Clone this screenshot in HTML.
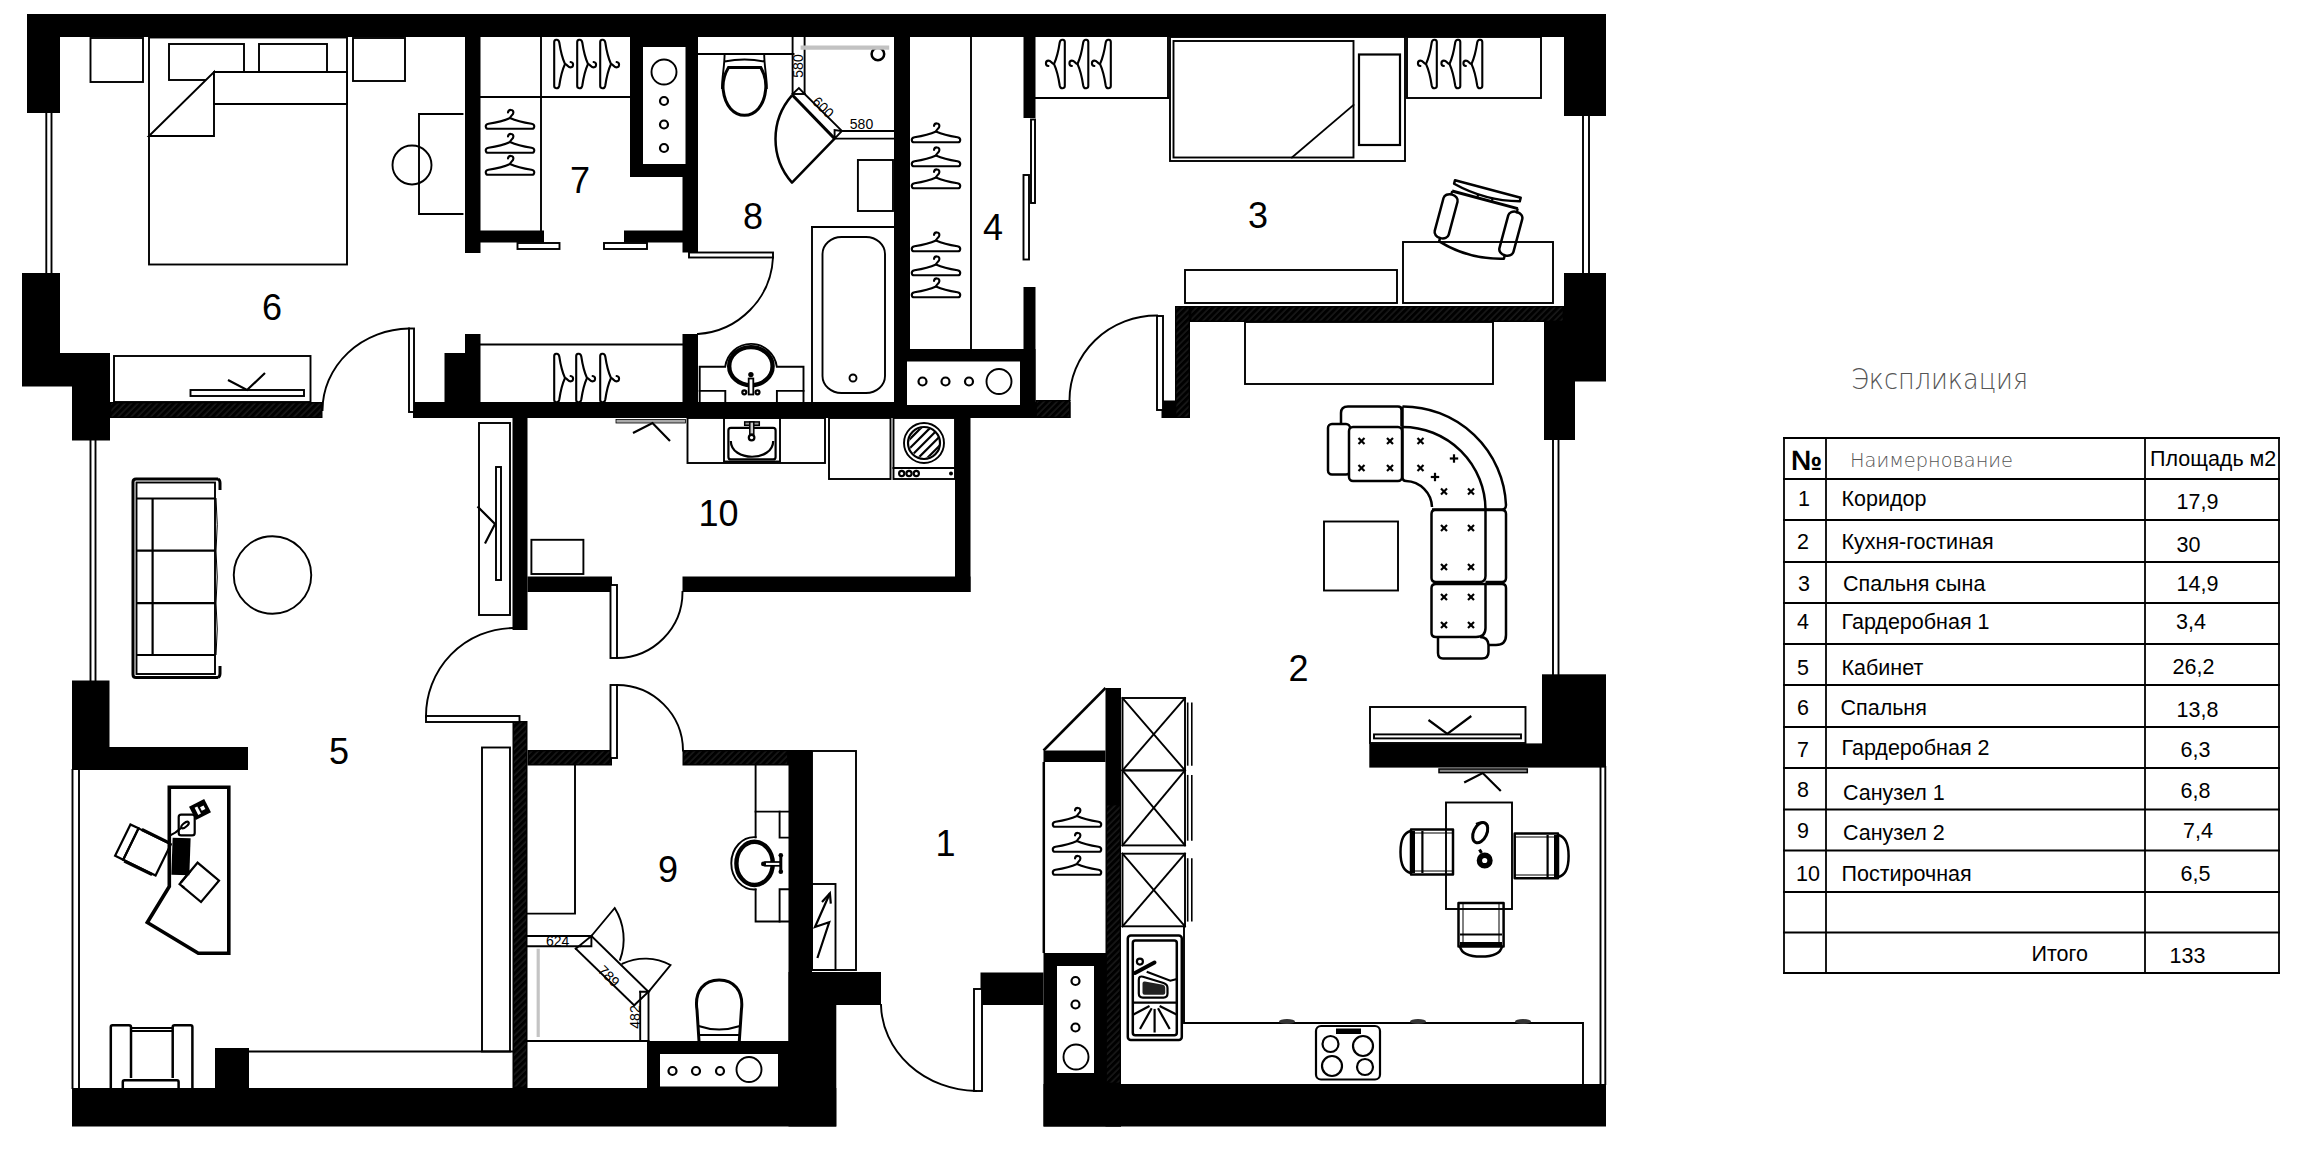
<!DOCTYPE html>
<html lang="ru"><head><meta charset="utf-8"><title>План квартиры — Экспликация</title>
<style>
html,body{margin:0;padding:0;background:#fff;}
body{width:2314px;height:1156px;overflow:hidden;font-family:"Liberation Sans",sans-serif;}
svg{display:block;position:absolute;left:0;top:0;}
.w{fill:#000;stroke:none;}
.wh{fill:#fff;stroke:none;}
.l{fill:none;stroke:#000;stroke-width:1.9;stroke-linecap:square;}
.lf{fill:#fff;stroke:#000;stroke-width:1.9;}
.lf25{fill:#fff;stroke:#000;stroke-width:2.5;}
.l25{fill:none;stroke:#000;stroke-width:2.5;stroke-linejoin:round;}
.l4{fill:none;stroke:#000;stroke-width:4;}
.lr4{fill:none;stroke:#000;stroke-width:4;stroke-linecap:round;}
.lk{fill:none;stroke:#000;stroke-width:3.6;stroke-linejoin:miter;}
.l1{fill:none;stroke:#000;stroke-width:1;}
.l15{fill:none;stroke:#000;stroke-width:1.6;}
.l2{fill:none;stroke:#000;stroke-width:2.2;}
.l3{fill:none;stroke:#000;stroke-width:3;}
.lr{fill:none;stroke:#000;stroke-width:2.1;stroke-linecap:round;stroke-linejoin:round;}
.g{fill:none;stroke:#bdbdbd;stroke-width:3;}
.gf{fill:#999;stroke:#000;stroke-width:1;}
.k{fill:#000;stroke:none;}
.k2{fill:#222;stroke:none;}
.rn{font-family:"Liberation Sans",sans-serif;font-size:36px;fill:#000;text-anchor:middle;}
.dm{font-family:"Liberation Sans",sans-serif;font-size:14px;fill:#000;text-anchor:middle;}
.tb{font-family:"Liberation Sans",sans-serif;font-size:21.5px;fill:#000;}
.tbb{font-family:"Liberation Sans",sans-serif;font-size:28px;font-weight:bold;fill:#000;}
.th{font-family:"DejaVu Sans Light","DejaVu Sans",sans-serif;font-weight:200;fill:#555;}
.tl{fill:none;stroke:#000;stroke-width:1.8;stroke-linecap:square;}
</style></head><body>
<svg width="2314" height="1156" viewBox="0 0 2314 1156">
<defs>
<g id="hg"><path class="lr" d="M0,-4 C0.3,-6.5 3.4,-6.8 3.4,-9.6 C3.4,-12.8 -1.6,-13 -2,-9.6"/><path class="lr" d="M0,-4 Q-8,-0.3 -21.5,1.7 Q-24.6,2.3 -24.2,4.8 Q-23.9,6.8 -22,6.8 L22,6.8 Q23.9,6.8 24.2,4.8 Q24.6,2.3 21.5,1.7 Q8,-0.3 0,-4 Z"/></g>
<clipPath id="drum"><circle cx="924.4" cy="442.7" r="15"/></clipPath>
<pattern id="ht" width="4.6" height="4.6" patternUnits="userSpaceOnUse" patternTransform="rotate(-45)"><line x1="0" y1="1" x2="4.6" y2="1" stroke="#484848" stroke-width="0.55"/></pattern>
</defs>
<g id="walls">
<rect class="w" x="27" y="14" width="1579" height="23"/>
<rect class="w" x="27" y="14" width="33" height="99"/>
<polygon class="w" points="22,273 60,273 60,353 110,353 110,440.5 72,440.5 72,386.5 22,386.5"/>
<rect class="w" x="110" y="402" width="212.5" height="16"/>
<polygon class="w" points="72,680.5 109.5,680.5 109.5,747 248,747 248,770 72,770"/>
<rect class="w" x="72" y="1088" width="764.3" height="38.5"/>
<rect class="w" x="215" y="1048" width="34" height="40"/>
<rect class="w" x="465" y="37" width="15.5" height="216"/>
<rect class="w" x="480" y="230.5" width="64" height="12.0"/>
<rect class="w" x="624" y="230.5" width="59" height="12.0"/>
<rect class="w" x="630" y="37" width="68" height="140"/>
<rect class="wh" x="643" y="47" width="42.5" height="117"/>
<rect class="w" x="682.5" y="177" width="15.5" height="75.5"/>
<polygon class="w" points="444.5,353 465,353 465,334 480.5,334 480.5,402 444.5,402"/>
<rect class="w" x="413" y="402" width="657.5" height="16"/>
<rect class="w" x="682.5" y="334" width="15.5" height="68"/>
<rect class="w" x="894" y="37" width="16" height="365"/>
<rect class="w" x="894" y="349" width="141.5" height="69"/>
<rect class="wh" x="907" y="361.5" width="113" height="43.5"/>
<rect class="w" x="1023.5" y="37" width="12.0" height="81"/>
<rect class="w" x="1023.5" y="287" width="12.0" height="131"/>
<rect class="w" x="512.5" y="418" width="15.0" height="212"/>
<rect class="w" x="527.5" y="576.5" width="84.5" height="15.5"/>
<rect class="w" x="682.5" y="576.5" width="288.0" height="15.5"/>
<rect class="w" x="955" y="418" width="15.5" height="174"/>
<rect class="w" x="512.5" y="721" width="15.0" height="367"/>
<rect class="w" x="527.5" y="750" width="84.5" height="15.5"/>
<rect class="w" x="682.5" y="750" width="129.5" height="15.5"/>
<rect class="w" x="788.5" y="750" width="23.5" height="338"/>
<rect class="w" x="647" y="1041" width="165" height="47"/>
<rect class="wh" x="660" y="1054" width="118" height="32.5"/>
<rect class="w" x="788.5" y="972" width="47.8" height="154.5"/>
<rect class="w" x="812" y="972" width="69" height="33"/>
<rect class="w" x="980.5" y="972.5" width="63.0" height="32.5"/>
<rect class="w" x="1043.5" y="953" width="77.5" height="173.5"/>
<rect class="wh" x="1057" y="966" width="37" height="107"/>
<rect class="w" x="1105.5" y="688" width="15.5" height="438.5"/>
<rect class="w" x="1043.5" y="750.5" width="62.0" height="11.5"/>
<rect class="w" x="1043.5" y="1084" width="562.5" height="42.5"/>
<rect class="w" x="1564" y="14" width="42" height="102"/>
<rect class="w" x="1564" y="273" width="42" height="108.5"/>
<rect class="w" x="1544" y="322" width="31" height="118"/>
<rect class="w" x="1175" y="306" width="389" height="16"/>
<rect class="w" x="1175" y="306" width="15" height="112"/>
<rect class="w" x="1161.5" y="400.5" width="28.5" height="17.5"/>
<rect class="w" x="1035.5" y="400" width="35.0" height="18"/>
<rect class="w" x="1542" y="674.3" width="64" height="93.3"/>
<rect class="w" x="1369.3" y="743.4" width="172.7" height="24.2"/>
<rect x="111.4" y="403.4" width="209.7" height="13.2" fill="url(#ht)"/>
<rect x="513.9" y="722.4" width="12.2" height="364.2" fill="url(#ht)"/>
<rect x="528.9" y="751.4" width="81.7" height="12.7" fill="url(#ht)"/>
<rect x="683.9" y="751.4" width="103.2" height="12.7" fill="url(#ht)"/>
<rect x="1191.4" y="307.4" width="371.2" height="13.2" fill="url(#ht)"/>
<rect x="1176.4" y="307.4" width="12.2" height="109.2" fill="url(#ht)"/>
<rect x="1036.9" y="401.4" width="32.2" height="15.2" fill="url(#ht)"/>
<rect x="1106.9" y="805.4" width="12.7" height="277.2" fill="url(#ht)"/>
</g>
<g id="furn">
<line class="l" x1="46.3" y1="113" x2="46.3" y2="273"/>
<line class="l" x1="51.5" y1="113" x2="51.5" y2="273"/>
<line class="l" x1="90.5" y1="440" x2="90.5" y2="681"/>
<line class="l" x1="95.5" y1="440" x2="95.5" y2="681"/>
<line class="l" x1="72.5" y1="770" x2="72.5" y2="1088"/>
<line class="l" x1="79" y1="770" x2="79" y2="1088"/>
<line class="l" x1="1583" y1="116" x2="1583" y2="273"/>
<line class="l" x1="1589" y1="116" x2="1589" y2="273"/>
<line class="l" x1="1553" y1="440" x2="1553" y2="674"/>
<line class="l" x1="1558.5" y1="440" x2="1558.5" y2="674"/>
<line class="l" x1="1600.5" y1="767" x2="1600.5" y2="1084"/>
<line class="l" x1="1605.3" y1="767" x2="1605.3" y2="1084"/>
<rect class="l" x="90.5" y="38" width="52.5" height="44"/>
<rect class="l" x="353" y="38" width="52" height="43"/>
<rect class="l" x="149" y="37.5" width="198" height="227.0"/>
<rect class="lf" x="169" y="44" width="75" height="36"/>
<rect class="lf" x="259" y="44" width="68" height="28"/>
<polygon class="lf" points="149,136 214,72 214,136"/>
<polygon class="lf" points="214,72 347,72 347,104 214,104"/>
<polyline class="l" points="462.5,114 419,114 419,214 462.5,214"/>
<circle class="l" cx="412" cy="165" r="19.5"/>
<rect class="l" x="114" y="356" width="196.5" height="46"/>
<rect class="l" x="190.5" y="390" width="113.5" height="6"/>
<polyline class="l2" points="228,380 247,390 265,373"/>
<path class="l" d="M322.5,410 A88,82 0 0 1 409,328.5"/>
<rect class="lf" x="409" y="328.5" width="5" height="83.5"/>
<text class="rn" x="272" y="320" >6</text>
<line class="l" x1="480.5" y1="97" x2="630" y2="97"/>
<line class="l" x1="541" y1="37" x2="541" y2="230.5"/>
<line class="l" x1="480.5" y1="344.5" x2="682.5" y2="344.5"/>
<use href="#hg" transform="translate(510,122) rotate(0) scale(1.0)"/>
<use href="#hg" transform="translate(510,146) rotate(0) scale(1.0)"/>
<use href="#hg" transform="translate(510,168) rotate(0) scale(1.0)"/>
<use href="#hg" transform="translate(561,64) rotate(90) scale(1.0)"/>
<use href="#hg" transform="translate(584,64) rotate(90) scale(1.0)"/>
<use href="#hg" transform="translate(607,64) rotate(90) scale(1.0)"/>
<use href="#hg" transform="translate(561,378) rotate(90) scale(1.0)"/>
<use href="#hg" transform="translate(583,378) rotate(90) scale(1.0)"/>
<use href="#hg" transform="translate(607,378) rotate(90) scale(1.0)"/>
<rect class="lf" x="517.5" y="243" width="42.0" height="6"/>
<rect class="lf" x="604" y="243" width="43" height="6"/>
<text class="rn" x="580" y="193" >7</text>
<circle class="l" cx="664" cy="72" r="12.5"/>
<circle class="l2" cx="664" cy="101" r="4"/>
<circle class="l2" cx="664" cy="124.5" r="4"/>
<circle class="l2" cx="664" cy="148" r="4"/>
<line class="l" x1="698" y1="54" x2="793.5" y2="54"/>
<line class="l" x1="792.6" y1="37" x2="792.6" y2="94"/>
<line class="l" x1="804.6" y1="37" x2="804.6" y2="94"/>
<line class="l" x1="804.6" y1="94" x2="841.9" y2="131"/>
<line class="l" x1="792.6" y1="94" x2="804.6" y2="94"/>
<polyline class="l" points="792.6,94 798.9,88 804.6,94"/>
<line class="l" x1="841.9" y1="131" x2="894" y2="131"/>
<line class="l" x1="834.6" y1="138.6" x2="894" y2="138.6"/>
<polyline class="l" points="834.6,138.6 834.6,130 841.9,131 834.6,138.6"/>
<circle class="l25" cx="877.9" cy="54" r="6.3"/>
<line x1="800.6" y1="47.7" x2="889.2" y2="47.7" stroke="#c2c2c2" stroke-width="4.2"/>
<path class="l25" d="M792,95.3 A66,66 0 0 0 792,182.6 L834.6,138.6"/>
<line class="l3" x1="792.3" y1="95" x2="834.6" y2="138.6"/>
<path class="l" d="M724.6,54 C724.6,66 722,76 722,88 M764.2,54 C764.2,66 766.8,76 766.8,88 M724.6,61.5 Q744.5,57.5 764.2,61.5"/>
<path class="l3" d="M728.5,67.5 L760.8,67.5 C765,75 766.3,84 765.6,90 C764,106 755,115.3 744.5,115.3 C734,115.3 725,106 723.2,90 C722.6,84 724,75 728.5,67.5 Z"/>
<rect class="l" x="857.9" y="160" width="35.1" height="51"/>
<line class="l" x1="812" y1="227" x2="894" y2="227"/>
<line class="l" x1="812" y1="227" x2="812" y2="402"/>
<rect class="l" x="822.5" y="237" width="62.5" height="156" rx="19" ry="17"/>
<circle class="l" cx="853" cy="378" r="3.5"/>
<path class="l" d="M699.7,402 L699.7,366.7 L725.2,366.7 A26,26 0 0 1 776.8,366.7 L803.5,366.7 L803.5,402"/>
<polyline class="l" points="699.7,390.9 725.3,390.9 725.3,402"/>
<polyline class="l" points="803.5,390.9 776.9,390.9 776.9,402"/>
<ellipse cx="750.9" cy="366.2" rx="21.7" ry="19.1" fill="none" stroke="#000" stroke-width="4.4"/>
<rect x="748.7" y="378.5" width="4.6" height="16" fill="#fff" stroke="#000" stroke-width="1.8"/>
<circle class="k" cx="750.9" cy="374.6" r="2.7"/>
<circle class="l2" cx="744.3" cy="392.3" r="2"/>
<circle class="l2" cx="757.5" cy="392.3" r="2"/>
<rect class="lf" x="689" y="252.5" width="84" height="5.0"/>
<path class="l" d="M773,257.5 A80.5,80.5 0 0 1 698,334"/>
<text class="rn" x="753" y="229" >8</text>
<text class="dm" x="0" y="0" transform="translate(803.4,66) rotate(-90)">580</text>
<text class="dm" x="0" y="0" transform="translate(819.7,110.8) rotate(45)">600</text>
<text class="dm" x="861.5" y="128.6" >580</text>
<line class="l" x1="971" y1="37" x2="971" y2="349"/>
<use href="#hg" transform="translate(936,135.5) rotate(0) scale(1.0)"/>
<use href="#hg" transform="translate(936,159.5) rotate(0) scale(1.0)"/>
<use href="#hg" transform="translate(936,181.5) rotate(0) scale(1.0)"/>
<use href="#hg" transform="translate(936,244.5) rotate(0) scale(1.0)"/>
<use href="#hg" transform="translate(936,268.5) rotate(0) scale(1.0)"/>
<use href="#hg" transform="translate(936,290.5) rotate(0) scale(1.0)"/>
<rect class="lf" x="1031" y="119.5" width="4" height="83.5"/>
<rect class="lf" x="1023.5" y="175" width="5.5" height="84.5"/>
<text class="rn" x="993" y="240" >4</text>
<circle class="l2" cx="922.5" cy="381.5" r="4"/>
<circle class="l2" cx="945.5" cy="381.5" r="4"/>
<circle class="l2" cx="969" cy="381.5" r="4"/>
<circle class="l" cx="999" cy="381.5" r="12.5"/>
<line class="l" x1="1035.5" y1="98" x2="1168" y2="98"/>
<line class="l" x1="1168" y1="37" x2="1168" y2="98"/>
<use href="#hg" transform="translate(1058,64) rotate(-90) scale(1.0)"/>
<use href="#hg" transform="translate(1081.5,64) rotate(-90) scale(1.0)"/>
<use href="#hg" transform="translate(1104,64) rotate(-90) scale(1.0)"/>
<rect class="l" x="1170" y="37" width="235" height="124"/>
<rect class="l" x="1173.5" y="41" width="180.0" height="116.5"/>
<line class="l" x1="1292" y1="157.5" x2="1353.5" y2="105"/>
<rect class="l2" x="1359" y="54.5" width="41" height="90.5"/>
<rect class="l" x="1407" y="37" width="134" height="61"/>
<use href="#hg" transform="translate(1430,64) rotate(-90) scale(1.0)"/>
<use href="#hg" transform="translate(1453.5,64) rotate(-90) scale(1.0)"/>
<use href="#hg" transform="translate(1475.5,64) rotate(-90) scale(1.0)"/>
<rect class="l" x="1403" y="242" width="150" height="61"/>
<rect class="l" x="1185" y="270" width="212" height="33"/>
<text class="rn" x="1258" y="228" >3</text>
<rect class="lf" x="1157" y="316" width="6" height="94"/>
<path class="l" d="M1069.5,400 A87.5,84.5 0 0 1 1157,315.5"/>
<rect x="616" y="419.5" width="69.5" height="3.5" fill="#aaa" stroke="#000" stroke-width="0.8"/>
<polyline class="l2" points="633,433 652.5,423 670,441"/>
<rect class="l" x="687.5" y="418" width="137.5" height="45"/>
<rect class="l" x="724" y="418" width="56" height="43.5"/>
<rect class="l" x="829" y="418" width="61.5" height="61"/>
<rect class="l" x="893.5" y="418" width="61.5" height="61"/>
<line class="l" x1="893.5" y1="468" x2="955" y2="468"/>
<circle class="l" cx="924" cy="443" r="20"/>
<circle class="l2" cx="924" cy="443" r="16"/>
<rect class="l" x="531.4" y="539.8" width="52.0" height="34.2"/>
<text class="rn" x="718.5" y="526" >10</text>
<rect class="lf" x="610.5" y="585" width="6.5" height="73"/>
<path class="l" d="M682.5,592 A66,66 0 0 1 617,658"/>
<rect class="lf" x="610.5" y="685" width="6.5" height="73"/>
<path class="l" d="M617,685 A66,66 0 0 1 683,750.5"/>
<rect class="l" x="479" y="423" width="31" height="192"/>
<rect class="lf" x="496" y="467" width="5" height="113"/>
<polyline class="l2" points="477.5,506.5 495,524 485,543.5"/>
<circle class="l" cx="272.5" cy="575" r="38.75"/>
<rect class="l" x="482" y="747.5" width="28" height="304.0"/>
<line class="l" x1="249" y1="1051.5" x2="512" y2="1051.5"/>
<rect class="lf" x="426" y="716" width="93.5" height="6"/>
<path class="l" d="M512.5,628 A88,88 0 0 0 426,717"/>
<text class="rn" x="339" y="764" >5</text>
<rect class="l" x="812" y="751" width="44" height="219"/>
<rect class="l" x="812" y="884" width="23.5" height="86"/>
<text class="rn" x="945.5" y="856" >1</text>
<rect class="lf" x="974" y="989" width="8" height="102"/>
<path class="l" d="M881,1005 A97,88 0 0 0 976,1091"/>
<polyline class="l25" points="1043.5,750.5 1105.5,688"/>
<line class="l25" x1="1043.8" y1="762" x2="1043.8" y2="953"/>
<use href="#hg" transform="translate(1077,820) rotate(0) scale(1.0)"/>
<use href="#hg" transform="translate(1077,845) rotate(0) scale(1.0)"/>
<use href="#hg" transform="translate(1077,868) rotate(0) scale(1.0)"/>
<rect class="l" x="1122.5" y="698" width="62.5" height="72.4"/>
<line class="l" x1="1122.5" y1="698" x2="1185" y2="770.4"/>
<line class="l" x1="1122.5" y1="770.4" x2="1185" y2="698"/>
<line class="l15" x1="1187.7" y1="702.5" x2="1187.7" y2="765.6999999999999"/>
<line class="l15" x1="1191.8" y1="702.5" x2="1191.8" y2="765.6999999999999"/>
<rect class="l" x="1122.5" y="770.4" width="62.5" height="75.0"/>
<line class="l" x1="1122.5" y1="770.4" x2="1185" y2="845.4"/>
<line class="l" x1="1122.5" y1="845.4" x2="1185" y2="770.4"/>
<line class="l15" x1="1187.7" y1="774.9" x2="1187.7" y2="840.6999999999999"/>
<line class="l15" x1="1191.8" y1="774.9" x2="1191.8" y2="840.6999999999999"/>
<rect class="l" x="1122.5" y="853.7" width="62.5" height="72.6"/>
<line class="l" x1="1122.5" y1="853.7" x2="1185" y2="926.3"/>
<line class="l" x1="1122.5" y1="926.3" x2="1185" y2="853.7"/>
<line class="l15" x1="1187.7" y1="858.2" x2="1187.7" y2="921.5999999999999"/>
<line class="l15" x1="1191.8" y1="858.2" x2="1191.8" y2="921.5999999999999"/>
<circle class="l2" cx="672.5" cy="1071" r="4"/>
<circle class="l2" cx="696" cy="1071" r="4"/>
<circle class="l2" cx="720" cy="1071" r="4"/>
<circle class="l" cx="749" cy="1069.5" r="12.5"/>
<circle class="l2" cx="1075.5" cy="981" r="4"/>
<circle class="l2" cx="1075.5" cy="1004.5" r="4"/>
<circle class="l2" cx="1075.5" cy="1027.5" r="4"/>
<circle class="l" cx="1076" cy="1057" r="12.5"/>
<rect class="l" x="1245" y="322" width="248" height="62"/>
<rect class="l" x="1324" y="521.5" width="74" height="69.0"/>
<text class="rn" x="1298.5" y="681" >2</text>
<rect class="l" x="1370" y="707" width="155.5" height="36"/>
<rect class="l" x="1374" y="734.4" width="147" height="4.0"/>
<polyline class="l2" points="1428.5,720 1447.3,734 1471.3,716"/>
<rect x="1439" y="769" width="88.3" height="3.6" fill="#8a8a8a" stroke="#000" stroke-width="1.5"/>
<polyline class="l2" points="1464.2,782.5 1482.7,773 1500.8,791"/>
<rect class="l" x="1446" y="802.5" width="66" height="106.5"/>
<polyline class="l" points="1184,926 1184,1023 1583,1023 1583,1084"/>
<rect class="l2" x="1316" y="1026" width="64" height="53.5" rx="5" ry="5"/>
<circle class="l2" cx="1330.5" cy="1044" r="8"/>
<circle class="l2" cx="1363" cy="1046" r="10"/>
<circle class="l2" cx="1332" cy="1066" r="10"/>
<circle class="l2" cx="1365" cy="1067" r="8"/>
<rect class="k" x="1336" y="1028.5" width="25" height="5.5"/>
<ellipse cx="1287" cy="1021.5" rx="8" ry="2.5" fill="#333"/>
<ellipse cx="1418" cy="1021.5" rx="8" ry="2.5" fill="#333"/>
<ellipse cx="1523" cy="1021.5" rx="8" ry="2.5" fill="#333"/>
<path class="l3" d="M218,479 L136,479 Q133,479 133,482 L133,674.5 Q133,677.5 136,677.5 L218,677.5"/>
<rect class="l" x="136.5" y="482.5" width="78.5" height="191.5"/>
<path class="l3" d="M218,479 Q220,480 220,483 L220,490 M218,677.5 Q220,676.5 220,673.5 L220,666"/>
<line class="l2" x1="136.5" y1="498.5" x2="215" y2="498.5"/>
<line class="l2" x1="136.5" y1="655" x2="215" y2="655"/>
<line class="l2" x1="152.6" y1="498.5" x2="152.6" y2="655"/>
<line class="l2" x1="136.5" y1="550.7" x2="215" y2="550.7"/>
<line class="l2" x1="136.5" y1="603.2" x2="215" y2="603.2"/>
<path class="l1" d="M216,498 Q218.5,525 216,551 Q218.5,577 216,603 Q218.5,629 216,655"/>
<polygon class="lk" points="169.3,787.3 228.8,787.3 228.8,953.2 198.3,953.2 147.3,922.5 169.3,886.5"/>
<rect class="k" x="172" y="838" width="18" height="37" transform="rotate(2 181 856)"/>
<rect class="l2" x="178.7" y="814.6" width="16" height="20.8" rx="2.5"/>
<ellipse class="l2" cx="185" cy="825" rx="4.5" ry="2" transform="rotate(-40 185 825)"/>
<path class="l2" d="M181,828 Q176,833 169,836"/>
<g transform="translate(200,809.5) rotate(-27)"><rect class="k" x="-8.5" y="-7.5" width="17" height="15"/><rect class="wh" x="-4" y="-4" width="3" height="8"/><rect class="wh" x="1" y="-2" width="4" height="4"/></g>
<g transform="translate(199.3,882.3) rotate(40)"><rect class="l2" x="-14" y="-14" width="28" height="28"/><path class="l2" d="M-14,-3 L-14,12 M-8,14 L-11,14"/></g>
<g transform="translate(143,850) rotate(26)"><rect class="l2" x="-22.5" y="-17.5" width="9" height="35"/><rect class="l2" x="-13.5" y="-17.5" width="36" height="35"/><rect class="k" x="-10" y="-19.5" width="31" height="3.2"/><rect class="k" x="-12" y="16.5" width="31" height="3.2"/></g>
<path class="l25" d="M110.8,1088 L110.8,1027 Q110.8,1025.3 112.5,1025.3 L129,1025.3 Q131,1025.3 131,1027 L131,1078"/>
<path class="l25" d="M192.4,1088 L192.4,1027 Q192.4,1025.3 190.7,1025.3 L174.5,1025.3 Q172.7,1025.3 172.7,1027 L172.7,1078"/>
<line class="l2" x1="131" y1="1028" x2="172.7" y2="1028"/>
<line class="l2" x1="131" y1="1031" x2="172.7" y2="1031"/>
<path class="l25" d="M122.8,1088 L122.8,1082 Q122.8,1080.3 124.5,1080.3 L177,1080.3 Q178.6,1080.3 178.6,1082 L178.6,1088"/>
<polyline class="l" points="575,765.5 575,913.6 527.5,913.6"/>
<line class="l" x1="527.5" y1="936" x2="591.4" y2="936"/>
<line class="l" x1="527.5" y1="946.3" x2="580" y2="946.3"/>
<line class="l" x1="591.4" y1="936" x2="648.5" y2="991.8"/>
<line class="l" x1="575.8" y1="948.7" x2="634.2" y2="1005.3"/>
<polyline class="l" points="575.8,948.7 591.4,936 591.4,946.3 580,946.3"/>
<line class="l" x1="640.2" y1="991.8" x2="640.2" y2="1041"/>
<line class="l" x1="648.5" y1="991.8" x2="648.5" y2="1041"/>
<polyline class="l" points="634.2,1005.3 648.5,991.8 640.2,991.8"/>
<line class="l" x1="527.5" y1="1041" x2="648.5" y2="1041"/>
<line x1="538.2" y1="948.7" x2="538.2" y2="1037" stroke="#c4c4c4" stroke-width="3.2"/>
<path class="l" d="M591.4,936 L614.7,908 A59,59 0 0 1 620,959.8"/>
<path class="l" d="M648.5,991.8 L670.5,965 A53,53 0 0 0 622.5,963.7"/>
<text class="dm" x="557.6" y="946" >624</text>
<text class="dm" x="0" y="0" transform="translate(607,978) rotate(45)" dy="2">789</text>
<text class="dm" x="0" y="0" transform="translate(640,1017) rotate(-90)">482</text>
<text class="rn" x="668" y="881.5" >9</text>
<polyline class="l" points="755.6,765.5 755.6,837.2"/>
<polyline class="l" points="755.6,889.4 755.6,921.5 788.5,921.5"/>
<line class="l" x1="755.6" y1="811.6" x2="788.5" y2="811.6"/>
<polyline class="l" points="788.5,837.6 779.6,837.6 779.6,811.6"/>
<polyline class="l" points="788.5,889.2 779.6,889.2 779.6,921.5"/>
<path class="l" d="M755.6,837.2 A22.9,26.15 0 1 0 755.6,889.4"/>
<ellipse cx="754.6" cy="863.4" rx="18.2" ry="21.6" fill="none" stroke="#000" stroke-width="4.4"/>
<rect x="765" y="862" width="16" height="3.8" fill="#fff" stroke="#000" stroke-width="1.7"/>
<line class="l3" x1="780.8" y1="856" x2="780.8" y2="871.4"/>
<circle class="k" cx="763.4" cy="863.9" r="2.4"/>
<circle class="k" cx="780.8" cy="855.3" r="2.3"/>
<circle class="k" cx="780.8" cy="871.8" r="2.3"/>
<path class="l3" d="M699,1041 L697,1010 C694,990 705,980 719.2,980 C733,980 744,990 741.4,1010 L739.3,1041"/>
<path class="l2" d="M698.5,1026 Q719,1033 740,1026"/>
<line class="l2" x1="699" y1="1035" x2="739.5" y2="1035"/>
<polyline class="l2" points="817.4,958 829.2,922.3 815,927 829.9,893.3"/>
<polyline class="l2" points="822,902 829.9,893.3 830.8,903.6"/>
<rect class="l2" x="728.4" y="427.9" width="47.2" height="31.5" rx="2.5"/>
<path class="l2" d="M730.8,440.9 C731,462 773,462 773.2,440.9"/>
<rect x="744.7" y="421.9" width="14.6" height="3.4" fill="#999" stroke="#000" stroke-width="1.5"/>
<rect x="749.8" y="421.9" width="4" height="12.3" fill="#ccc" stroke="#000" stroke-width="1.5"/>
<circle class="l2" cx="751.6" cy="437.6" r="2.8"/>
<circle class="l2" cx="901.7" cy="473.5" r="2.6"/>
<circle class="l2" cx="909" cy="473.5" r="2.6"/>
<circle class="l2" cx="916.3" cy="473.5" r="2.6"/>
<circle class="k" cx="951" cy="473.5" r="2"/>
<g clip-path="url(#drum)">
<line class="l2" x1="897.4" y1="451.5" x2="923.4" y2="425.5"/>
<line class="l2" x1="904.4" y1="453.59999999999997" x2="930.4" y2="427.59999999999997"/>
<line class="l2" x1="911.4" y1="455.7" x2="937.4" y2="429.7"/>
<line class="l2" x1="918.4" y1="457.8" x2="944.4" y2="431.8"/>
<line class="l2" x1="925.4" y1="459.9" x2="951.4" y2="433.9"/>
</g>
<rect class="l25" x="1127.8" y="935.4" width="54" height="104.6" rx="3"/>
<rect class="l25" x="1132.8" y="940.4" width="44" height="94.8" rx="2.5"/>
<line class="l2" x1="1132.8" y1="1002.7" x2="1177" y2="1002.7"/>
<line class="l2" x1="1154.6" y1="1008.9" x2="1154.6" y2="1032.5"/>
<line class="l2" x1="1151.7" y1="1008.3" x2="1140" y2="1029"/>
<line class="l2" x1="1158" y1="1008.3" x2="1169.7" y2="1029"/>
<line class="l2" x1="1149.5" y1="1006" x2="1133.5" y2="1014.5"/>
<line class="l2" x1="1159.6" y1="1006" x2="1176.5" y2="1014.5"/>
<path class="l2" d="M1138.8,980 Q1138.8,975.5 1143,976.8 L1163.5,983 Q1167.5,984.3 1167.5,988 L1167.5,993.6 Q1167.5,997.6 1163.5,997.6 L1142.8,997.6 Q1138.8,997.6 1138.8,993.6 Z"/>
<path class="k2" d="M1142.5,983.5 Q1142.5,981 1145,981.5 L1163,984.8 Q1165.2,985.3 1165.2,987.5 L1165.2,992.8 Q1165.2,994.8 1163.2,994.8 L1144.5,994.8 Q1142.5,994.8 1142.5,992.8 Z"/>
<circle class="l2" cx="1139.9" cy="961.6" r="3"/>
<line class="lr4" x1="1135" y1="973" x2="1154.5" y2="962.5"/>
<path class="l2" d="M1146.7,971.7 L1170.3,980.7 L1177,979"/>
<g transform="translate(1478.25,224.9) rotate(15)"><path class="l25" d="M-34,-37.2 L34,-37.2 L34,-33.5 Q0,-25 -34,-33.5 Z"/><path class="l3" d="M-34,-26 L34,-26"/><path class="l2" d="M-34,-26 L-34,-22 M34,-26 L34,-21 M-8,-30 L-8,-27 M7,-30 L7,-27"/><rect class="l25" x="-40.5" y="-22.5" width="14.5" height="45" rx="7" ry="5.5"/><rect class="l25" x="26.5" y="-22.5" width="14.5" height="45" rx="7" ry="5.5"/><path class="l25" d="M-33.5,22.5 L-33.5,26 Q0,36 33.5,26 L33.5,22.5"/></g>
<path class="l25" d="M1411,829.5 L1453,829.5 L1453,874.5 L1411,874.5 Z"/>
<path class="l25" d="M1411,831 Q1400.5,833 1400.5,852 Q1400.5,871 1411,873"/>
<line class="l4" x1="1413" y1="831" x2="1413" y2="873"/>
<line class="l2" x1="1422.4" y1="831" x2="1422.4" y2="873"/>
<line class="l1" x1="1411" y1="833" x2="1453" y2="833"/>
<line class="l1" x1="1411" y1="871" x2="1453" y2="871"/>
<path class="l25" d="M1514.7,833.5 L1558,833.5 L1558,878.3 L1514.7,878.3 Z"/>
<path class="l25" d="M1558,835 Q1568.6,837 1568.6,856 Q1568.6,875 1558,877"/>
<line class="l4" x1="1556" y1="835" x2="1556" y2="877"/>
<line class="l2" x1="1547.6" y1="835" x2="1547.6" y2="877"/>
<line class="l1" x1="1514.7" y1="837" x2="1558" y2="837"/>
<line class="l1" x1="1514.7" y1="875" x2="1558" y2="875"/>
<path class="l25" d="M1458.5,903 L1503.6,903 L1503.6,946.5 L1458.5,946.5 Z"/>
<path class="l25" d="M1460,946.5 Q1462,956.6 1481,956.6 Q1500,956.6 1502,946.5"/>
<line class="l4" x1="1460" y1="944" x2="1502" y2="944"/>
<line class="l2" x1="1460" y1="934.5" x2="1502" y2="934.5"/>
<line class="l1" x1="1463" y1="903" x2="1463" y2="946"/>
<line class="l1" x1="1499" y1="903" x2="1499" y2="946"/>
<ellipse class="l3" cx="1480.2" cy="832.6" rx="6.6" ry="10.8" transform="rotate(25 1480.2 832.6)"/>
<path class="l2" d="M1476,824 Q1484,820 1488,826"/>
<circle cx="1484.7" cy="860.5" r="5.3" fill="none" stroke="#000" stroke-width="5.4"/>
<line class="l3" x1="1481.5" y1="853" x2="1479.5" y2="849.5"/>
<path class="l25" d="M1341,424 L1341,413 Q1341,406.5 1348,406.5 L1398,406.5 Q1401.5,406.5 1401.5,410 L1401.5,426.5"/>
<rect class="l25" x="1328" y="424" width="22" height="50.5" rx="4"/>
<rect class="lf25" x="1349" y="427" width="53" height="54" rx="4"/>
<path class="l25" d="M1402.5,406.5 A103,103 0 0 1 1506,505 Q1506,509.5 1502,509.5"/>
<path class="l25" d="M1402.5,427 A83,83 0 0 1 1485.5,509.5"/>
<path class="l25" d="M1402.5,406.5 L1402.5,477 Q1402.5,481 1406,481 A27,27 0 0 1 1432,507"/>
<line class="l25" x1="1432" y1="509.5" x2="1502" y2="509.5"/>
<path class="l25" d="M1431.5,514 Q1431.5,510 1435,510 L1485.5,510 L1485.5,576 Q1485.5,582 1480,582 L1436,582 Q1431.5,582 1431.5,578 Z"/>
<path class="l25" d="M1485.5,510 L1502,510 Q1506,510 1506,514 L1506,578 Q1506,582 1502,582 L1485.5,582"/>
<path class="l25" d="M1431.5,588 Q1431.5,584 1436,584 L1485.5,584 L1485.5,628 Q1485.5,637 1476,637 L1436,637 Q1431.5,637 1431.5,633 Z"/>
<path class="l25" d="M1485.5,584 L1502,584 Q1506,584 1506,588 L1506,635 Q1506,645 1496,645 L1488,645"/>
<path class="l25" d="M1438,637 L1438,653 Q1438,658.5 1443,658.5 L1482,658.5 Q1488.5,658.5 1488.5,652 L1488.5,645 Q1488,637 1480,637"/>
<line class="l2" x1="1358.5" y1="438.0" x2="1364.5" y2="444.0"/>
<line class="l2" x1="1358.5" y1="444.0" x2="1364.5" y2="438.0"/>
<line class="l2" x1="1387.0" y1="438.0" x2="1393.0" y2="444.0"/>
<line class="l2" x1="1387.0" y1="444.0" x2="1393.0" y2="438.0"/>
<line class="l2" x1="1358.5" y1="465.0" x2="1364.5" y2="471.0"/>
<line class="l2" x1="1358.5" y1="471.0" x2="1364.5" y2="465.0"/>
<line class="l2" x1="1387.0" y1="465.0" x2="1393.0" y2="471.0"/>
<line class="l2" x1="1387.0" y1="471.0" x2="1393.0" y2="465.0"/>
<line class="l2" x1="1417.5" y1="438.0" x2="1423.5" y2="444.0"/>
<line class="l2" x1="1417.5" y1="444.0" x2="1423.5" y2="438.0"/>
<line class="l2" x1="1417.5" y1="465.0" x2="1423.5" y2="471.0"/>
<line class="l2" x1="1417.5" y1="471.0" x2="1423.5" y2="465.0"/>
<line class="l2" x1="1441.0" y1="488.5" x2="1447.0" y2="494.5"/>
<line class="l2" x1="1441.0" y1="494.5" x2="1447.0" y2="488.5"/>
<line class="l2" x1="1468.0" y1="488.5" x2="1474.0" y2="494.5"/>
<line class="l2" x1="1468.0" y1="494.5" x2="1474.0" y2="488.5"/>
<line class="l2" x1="1441.0" y1="525.0" x2="1447.0" y2="531.0"/>
<line class="l2" x1="1441.0" y1="531.0" x2="1447.0" y2="525.0"/>
<line class="l2" x1="1468.0" y1="525.0" x2="1474.0" y2="531.0"/>
<line class="l2" x1="1468.0" y1="531.0" x2="1474.0" y2="525.0"/>
<line class="l2" x1="1441.0" y1="564.0" x2="1447.0" y2="570.0"/>
<line class="l2" x1="1441.0" y1="570.0" x2="1447.0" y2="564.0"/>
<line class="l2" x1="1468.0" y1="564.0" x2="1474.0" y2="570.0"/>
<line class="l2" x1="1468.0" y1="570.0" x2="1474.0" y2="564.0"/>
<line class="l2" x1="1441.0" y1="594.0" x2="1447.0" y2="600.0"/>
<line class="l2" x1="1441.0" y1="600.0" x2="1447.0" y2="594.0"/>
<line class="l2" x1="1468.0" y1="594.0" x2="1474.0" y2="600.0"/>
<line class="l2" x1="1468.0" y1="600.0" x2="1474.0" y2="594.0"/>
<line class="l2" x1="1441.0" y1="622.0" x2="1447.0" y2="628.0"/>
<line class="l2" x1="1441.0" y1="628.0" x2="1447.0" y2="622.0"/>
<line class="l2" x1="1468.0" y1="622.0" x2="1474.0" y2="628.0"/>
<line class="l2" x1="1468.0" y1="628.0" x2="1474.0" y2="622.0"/>
<line class="l2" x1="1449.8" y1="458.5" x2="1458.2" y2="458.5"/>
<line class="l2" x1="1454" y1="454.3" x2="1454" y2="462.7"/>
<line class="l2" x1="1430.8" y1="477" x2="1439.2" y2="477"/>
<line class="l2" x1="1435" y1="472.8" x2="1435" y2="481.2"/>
</g>
<g id="table">
<text class="th" x="1851" y="389" style="font-size:29px" textLength="177" lengthAdjust="spacingAndGlyphs">Экспликация</text>
<line class="tl" x1="1784" y1="438" x2="2279" y2="438"/>
<line class="tl" x1="1784" y1="479" x2="2279" y2="479"/>
<line class="tl" x1="1784" y1="520" x2="2279" y2="520"/>
<line class="tl" x1="1784" y1="562" x2="2279" y2="562"/>
<line class="tl" x1="1784" y1="603" x2="2279" y2="603"/>
<line class="tl" x1="1784" y1="644" x2="2279" y2="644"/>
<line class="tl" x1="1784" y1="685" x2="2279" y2="685"/>
<line class="tl" x1="1784" y1="727" x2="2279" y2="727"/>
<line class="tl" x1="1784" y1="768" x2="2279" y2="768"/>
<line class="tl" x1="1784" y1="809.5" x2="2279" y2="809.5"/>
<line class="tl" x1="1784" y1="850.5" x2="2279" y2="850.5"/>
<line class="tl" x1="1784" y1="892" x2="2279" y2="892"/>
<line class="tl" x1="1784" y1="932.5" x2="2279" y2="932.5"/>
<line class="tl" x1="1784" y1="973" x2="2279" y2="973"/>
<line class="tl" x1="1784" y1="438" x2="1784" y2="973"/>
<line class="tl" x1="1826" y1="438" x2="1826" y2="973"/>
<line class="tl" x1="2145" y1="438" x2="2145" y2="973"/>
<line class="tl" x1="2279" y1="438" x2="2279" y2="973"/>
<text class="tbb" x="1791" y="470" >№</text>
<text class="th" x="1850" y="466.5" style="font-size:20px" textLength="163" lengthAdjust="spacingAndGlyphs">Наимернование</text>
<text class="tb" x="2150" y="466" >Площадь м2</text>
<text class="tb" x="1798" y="506" >1</text>
<text class="tb" x="1841.5" y="506" >Коридор</text>
<text class="tb" x="2176.5" y="509" >17,9</text>
<text class="tb" x="1797" y="549" >2</text>
<text class="tb" x="1841.5" y="549" >Кухня-гостиная</text>
<text class="tb" x="2176.5" y="551.5" >30</text>
<text class="tb" x="1798" y="590.5" >3</text>
<text class="tb" x="1843" y="590.5" >Спальня сына</text>
<text class="tb" x="2176.5" y="590.5" >14,9</text>
<text class="tb" x="1797" y="629" >4</text>
<text class="tb" x="1841.5" y="629" >Гардеробная 1</text>
<text class="tb" x="2176" y="629" >3,4</text>
<text class="tb" x="1797" y="675" >5</text>
<text class="tb" x="1841.5" y="675" >Кабинет</text>
<text class="tb" x="2172.5" y="674" >26,2</text>
<text class="tb" x="1797" y="715" >6</text>
<text class="tb" x="1840.5" y="715" >Спальня</text>
<text class="tb" x="2176.5" y="717" >13,8</text>
<text class="tb" x="1797" y="757" >7</text>
<text class="tb" x="1841.5" y="755" >Гардеробная 2</text>
<text class="tb" x="2180.5" y="757" >6,3</text>
<text class="tb" x="1797" y="797" >8</text>
<text class="tb" x="1843" y="799.5" >Санузел 1</text>
<text class="tb" x="2180.5" y="797.5" >6,8</text>
<text class="tb" x="1797" y="838" >9</text>
<text class="tb" x="1843" y="840" >Санузел 2</text>
<text class="tb" x="2183" y="837.5" >7,4</text>
<text class="tb" x="1796" y="881" >10</text>
<text class="tb" x="1841.5" y="881" >Постирочная</text>
<text class="tb" x="2180.5" y="881" >6,5</text>
<text class="tb" x="2031.5" y="961" >Итого</text>
<text class="tb" x="2169.5" y="962.5" >133</text>
</g>
</svg>
</body></html>
